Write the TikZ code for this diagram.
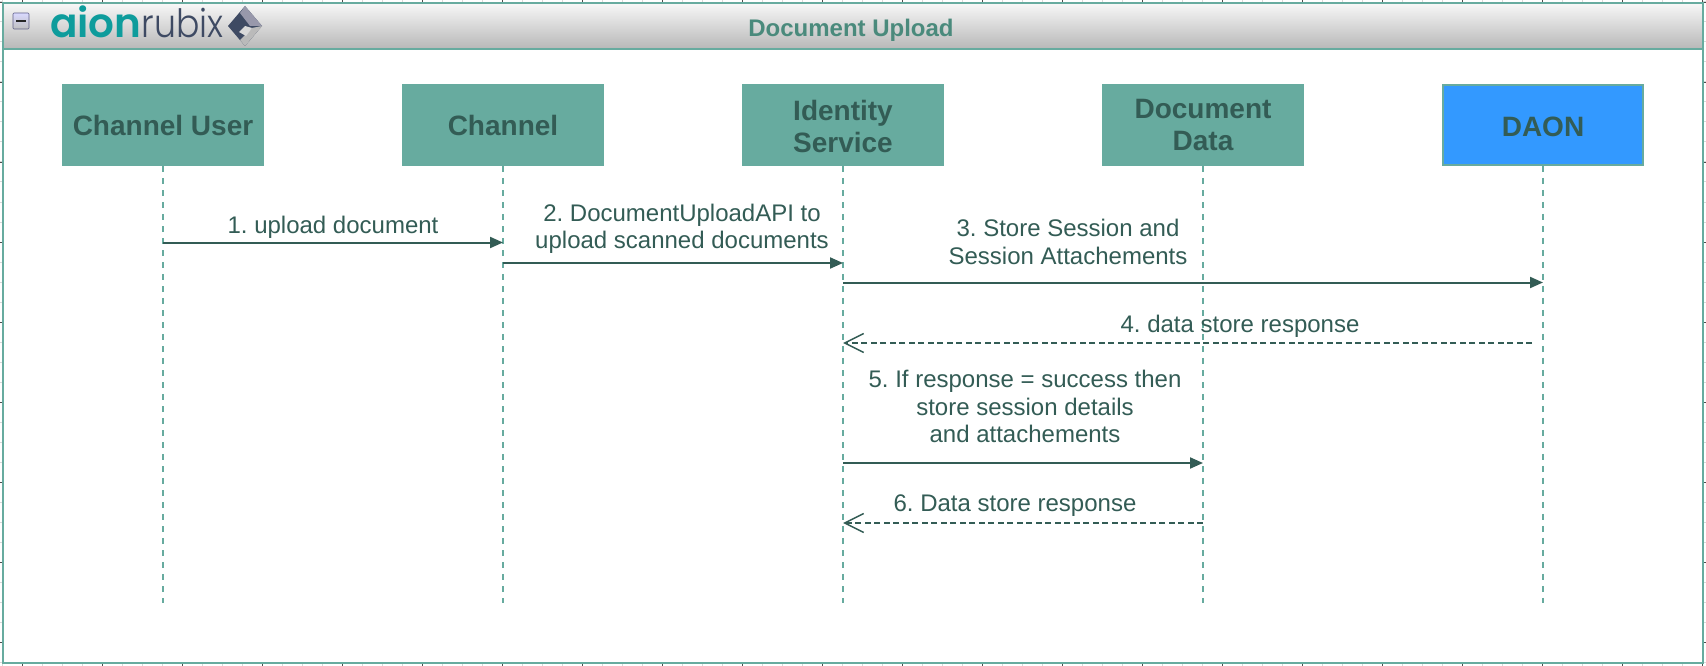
\documentclass[tikz,border=0pt]{standalone}
\usepackage{fontspec}
\setmainfont{Liberation Sans}
\newfontfamily\logoa{Poppins}[UprightFont=*-SemiBold]
\newfontfamily\logob{Poppins}[UprightFont=*-Light]
\usetikzlibrary{arrows.meta}
\definecolor{teal1}{HTML}{67AB9F}
\definecolor{ink}{HTML}{335C55}
\definecolor{daon}{HTML}{3399FF}
\definecolor{logot}{HTML}{0E9C9C}
\definecolor{logod}{HTML}{3E4A63}
\definecolor{titlec}{HTML}{4A8A7C}
\tikzset{x=1pt,y=-1pt,
  actor/.style={rectangle,fill=teal1,draw=none,minimum width=202pt,minimum height=82pt,inner sep=0pt,align=center,text=ink,font=\fontsize{28}{32}\selectfont\bfseries},
  actorlabel/.style={inner sep=0pt,align=center,text=ink,font=\fontsize{28}{32}\selectfont\bfseries},
  life/.style={draw=teal1,line width=1.8pt,dash pattern=on 6pt off 6pt},
  call/.style={draw=ink,line width=2pt,-{Triangle[length=13pt,width=11pt]}},
  reply/.style={draw=ink,line width=1.8pt,dash pattern=on 6pt off 3.5pt,-{Straight Barb[length=19pt,width=19pt,line width=1.5pt]}},
  msg/.style={text=ink,align=center,inner sep=0pt,font=\frenchspacing\fontsize{24}{27.5}\selectfont}
}
\begin{document}
\begin{tikzpicture}
\useasboundingbox (0,0) rectangle (1706,666);
\fill[white] (0,0) rectangle (1706,666);
% rulers
\foreach \t in {2,22,...,1702}{
  \draw[black!15,line width=1pt] (\t,0) -- (\t,3);
  \draw[black!15,line width=1pt] (\t,663) -- (\t,666);}
\foreach \t in {2,22,...,662}{
  \draw[black!15,line width=1pt] (0,\t) -- (3,\t);
  \draw[black!15,line width=1pt] (1703,\t) -- (1706,\t);}
\foreach \t in {22,102,...,1702}{
  \draw[black!70,line width=.8pt] (\t,0) -- (\t,3);
  \draw[black!70,line width=.8pt] (\t,663) -- (\t,666);}
\foreach \t in {2,82,...,662}{
  \draw[black!70,line width=.8pt] (0,\t) -- (3,\t);
  \draw[black!70,line width=.8pt] (1703,\t) -- (1706,\t);}
% frame
\shade[top color=white!97!black,bottom color=black!28] (3,3) rectangle (1703,49);
\draw[teal1,line width=2pt] (3,3) rectangle (1703,663);
\draw[teal1,line width=2pt] (3,49) -- (1703,49);
% collapse button
\draw[rounded corners=1pt,draw=black!35!blue!25!gray,top color=white!85!blue,bottom color=black!25,line width=.7pt] (13,13) rectangle (29,29);
\fill[black!85] (16,20) rectangle (26,22);
% logo
\node[anchor=base west,inner sep=0pt,text=logot,font=\logoa\fontsize{40.5}{42}\selectfont] (logoA) at (50,38) {aion};
\node[anchor=base west,inner sep=0pt,text=logod,font=\logob\fontsize{39}{42}\selectfont] (logoB) at (logoA.base east) {\scalebox{0.89}[1]{rubix}};
\fill[logod] (245,6) -- (262,26) -- (245,46) -- (228,26) -- cycle;
\fill[black!30!blue!15!gray!70] (245,6) -- (262,26) -- (250,26) -- (240,13) -- cycle;
\fill[black!20!gray!45] (245,46) -- (262,26) -- (252,28) -- (240,40) -- cycle;
\fill[gray!30] (245,26) -- (252,28) -- (246,36) -- (239,32) -- cycle;
% title
\node[inner sep=0pt,text=titlec,font=\fontsize{24}{28}\selectfont\bfseries] (title) at (851,30) {Document Upload};
% actors
\node[actor] (u) at (163,125) {Channel User};
\node[actor] (c) at (503,125) {Channel};
\node[actor] (i) at (843,125) {};
\node[actorlabel] (il) at (843,126) {Identity\\Service};
\node[actor] (d) at (1203,125) {Document\\Data};
\node[actor,fill=daon,draw=teal1,line width=1.6pt,minimum width=200pt,minimum height=80pt] (n) at (1543,125) {};
\node[actorlabel] (nl) at (1543,127) {DAON};
% lifeline ends
\coordinate (ue) at (163,603);
\coordinate (ce) at (503,603);
\coordinate (ie) at (843,603);
\coordinate (de) at (1203,603);
\coordinate (ne) at (1543,603);
\foreach \a/\b in {u/ue,c/ce,i/ie,d/de,n/ne} \draw[life] (\a.south) -- (\b);
% message end points
\coordinate (m1a) at (163,242.5); \coordinate (m1b) at (503,242.5);
\coordinate (m2a) at (503,263);   \coordinate (m2b) at (843,263);
\coordinate (m3a) at (843,282.5); \coordinate (m3b) at (1543,282.5);
\coordinate (m4a) at (1532,343);  \coordinate (m4b) at (843,343);
\coordinate (m5a) at (843,463);   \coordinate (m5b) at (1203,463);
\coordinate (m6a) at (1203,523);  \coordinate (m6b) at (843,523);
\draw[call] (m1a) -- (m1b);
\draw[call] (m2a) -- (m2b);
\draw[call] (m3a) -- (m3b);
\draw[reply] (m4a) -- (m4b);
\draw[call] (m5a) -- (m5b);
\draw[reply] (m6a) -- (m6b);
% labels
\node[msg] (t1) at (333,227) {1. upload document};
\node[msg] (t2) at (682,229) {2. DocumentUploadAPI to\\upload scanned documents};
\node[msg] (t3) at (1068,242) {3. Store Session and\\Session Attachements};
\node[msg] (t4) at (1240,326) {4. data store response};
\node[msg] (t5) at (1025,406.5) {5. If response = success then\\store session details\\and attachements};
\node[msg] (t6) at (1015,506) {6. Data store response};
\end{tikzpicture}
\end{document}
